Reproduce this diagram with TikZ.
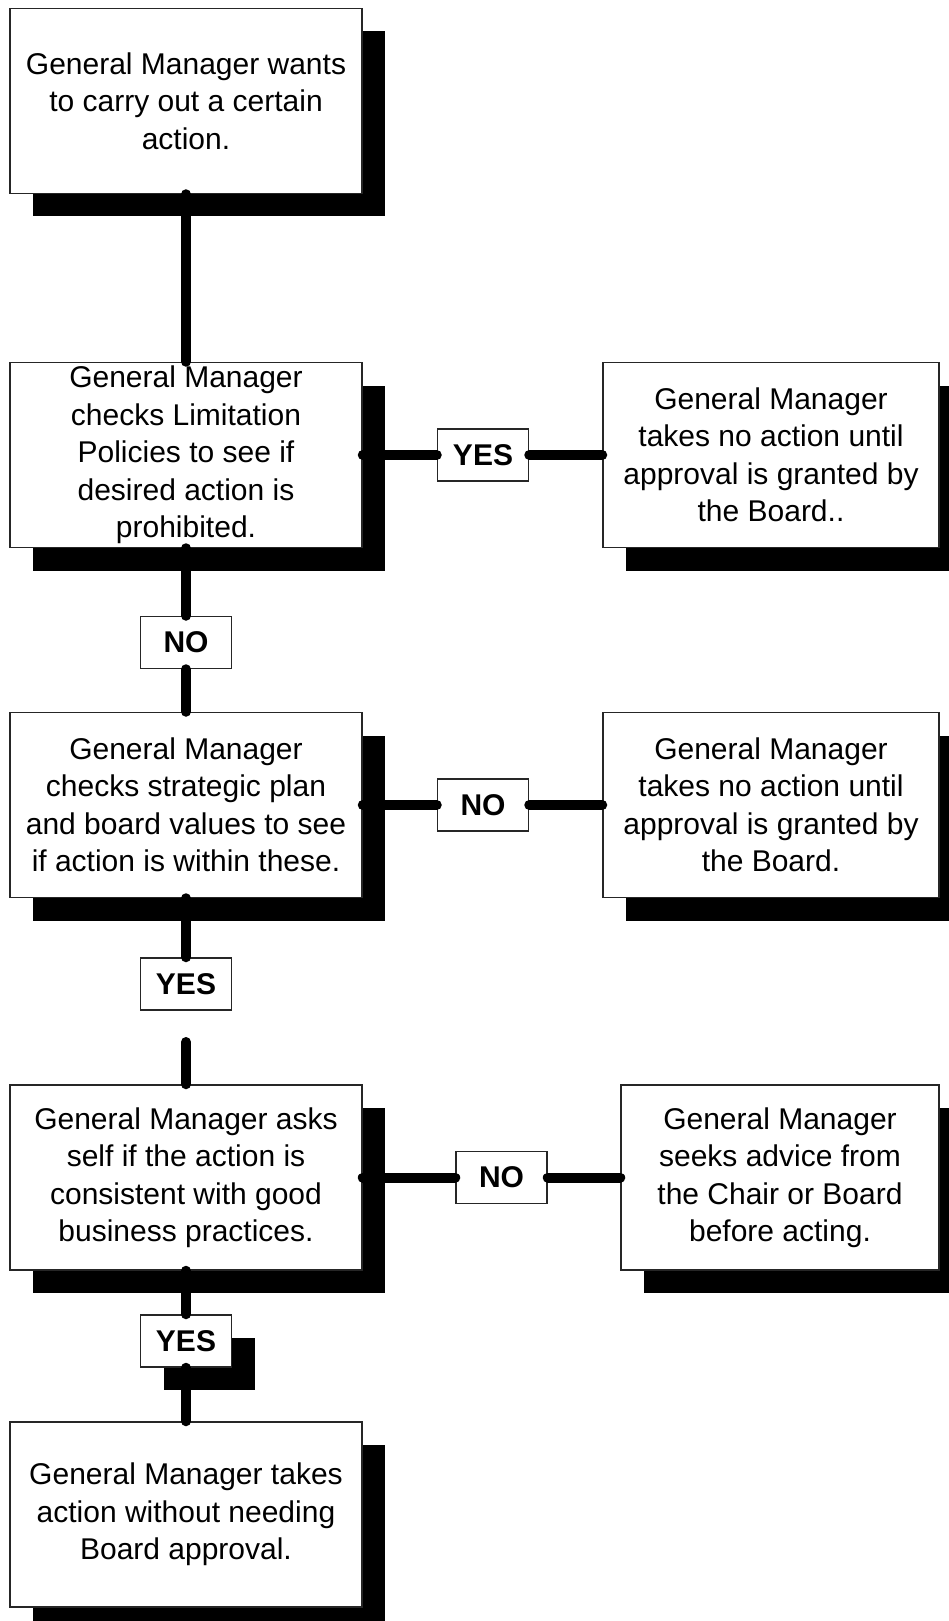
\documentclass[tikz,border=0pt]{standalone}
\usepackage{fontspec}
\setmainfont{Liberation Sans}
\usetikzlibrary{shadows}
\begin{document}
\begin{tikzpicture}[x=1pt,y=-1pt,
    box/.style={draw=black!85,line width=1.5pt,fill=white,inner sep=0pt,
      minimum width=352pt,minimum height=185pt,align=center,
      font=\fontsize{30}{37.5}\selectfont},
    shade/.style={drop shadow={shadow xshift=23pt,shadow yshift=-23pt,
      fill=black,opacity=1}},
    answer/.style={draw=black!85,line width=1.5pt,fill=white,inner sep=0pt,
      minimum width=91pt,minimum height=52pt,
      font=\fontsize{30}{36}\selectfont\bfseries}]
      \fill[white] (0,0) rectangle (949,1621);
      \useasboundingbox (0,0) rectangle (949,1621);
      \clip (0,0) rectangle (949,1621);
      \draw
        (186,101) node[box,shade] (0){General Manager wants\\to carry out a certain\\action.}
        (186,455) node[box,shade] (1){General Manager\\checks Limitation\\Policies to see if\\desired action is\\prohibited.}
        (771,455) node[box,shade,minimum width=336pt] (2){General Manager\\takes no action until\\approval is granted by\\the Board..}
        (186,805) node[box,shade] (3){General Manager\\checks strategic plan\\and board values to see\\if action is within these.}
        (771,805) node[box,shade,minimum width=336pt] (4){General Manager\\takes no action until\\approval is granted by\\the Board.}
        (186,1177.5) node[box,shade] (5){General Manager asks\\self if the action is\\consistent with good\\business practices.}
        (780,1177.5) node[box,shade,minimum width=318pt] (6){General Manager\\seeks advice from\\the Chair or Board\\before acting.}
        (186,1514.5) node[box,shade] (7){General Manager takes\\action without needing\\Board approval.};
      \draw
        (483,455) node[answer] (y0){YES}
        (186,642.5) node[answer] (n0){NO}
        (483,805) node[answer] (n1){NO}
        (186,984) node[answer] (y1){YES}
        (501.5,1177.5) node[answer] (n2){NO}
        (186,1341) node[answer,shade] (y2){YES};
      \coordinate (gap) at (186,1042);
      \begin{scope}[line width=10pt,line cap=round]
        \draw (0) to (1);
        \draw (1) to (y0);
        \draw (y0) to (2);
        \draw (1) to (n0);
        \draw (n0) to (3);
        \draw (3) to (n1);
        \draw (n1) to (4);
        \draw (3) to (y1);
        \draw (gap) to (5);
        \draw (5) to (n2);
        \draw (n2) to (6);
        \draw (5) to (y2);
        \draw (y2) to (7);
      \end{scope}
    \end{tikzpicture}
\end{document}
